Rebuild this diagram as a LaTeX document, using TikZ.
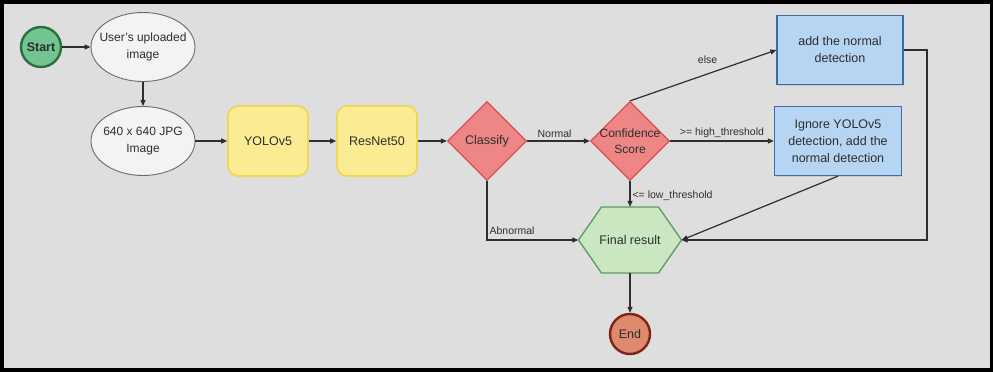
\documentclass[tikz,border=0pt]{standalone}
\usepackage{fontspec}
\setmainfont{Liberation Sans}
\usetikzlibrary{shapes.geometric,arrows.meta,calc,shadows}

\definecolor{pagebg}{HTML}{DEDEDE}
\definecolor{ink}{HTML}{2E2E2E}
\definecolor{startfill}{HTML}{74C491}
\definecolor{startline}{HTML}{2B6E40}
\definecolor{endfill}{HTML}{DE8A6E}
\definecolor{endline}{HTML}{7E2518}
\definecolor{ellfill}{HTML}{F3F3F3}
\definecolor{ellline}{HTML}{6A6A6A}
\definecolor{yelfill}{HTML}{FBEB93}
\definecolor{yelline}{HTML}{EDD65A}
\definecolor{redfill}{HTML}{EF8686}
\definecolor{redline}{HTML}{D65050}
\definecolor{bluefill}{HTML}{B6D5F3}
\definecolor{blueline}{HTML}{3D6DA4}
\definecolor{hexfill}{HTML}{CAE7C2}
\definecolor{hexline}{HTML}{5A9C58}

\tikzset{
  txt/.style={text=ink, font=\fontsize{12.5}{17}\selectfont, align=center},
  terminal/.style={circle, minimum size=40pt, inner sep=0pt, line width=2.4pt,
    text=ink, font=\fontsize{12.5}{15}\selectfont\bfseries},
  inputell/.style={ellipse, txt, font=\fontsize{12}{17}\selectfont,
    draw=ellline, fill=ellfill, line width=0.9pt,
    minimum width=104pt, minimum height=69pt, inner xsep=-11pt, inner ysep=0pt},
  modelbox/.style={rectangle, txt, rounded corners=10pt, draw=yelline, fill=yelfill,
    line width=1.6pt, minimum width=80pt, minimum height=70pt},
  decision/.style={diamond, aspect=1, txt, draw=redline, fill=redfill,
    line width=1.2pt, minimum width=79pt, minimum height=79pt, inner sep=-9pt},
  actionbox/.style={rectangle, txt, draw=blueline, fill=bluefill, line width=1.3pt,
    minimum width=126pt, minimum height=69pt,
    drop shadow={shadow xshift=0.8pt, shadow yshift=-1.2pt, opacity=0.22}},
  flow/.style={draw=ink, line width=1.2pt, -{Triangle[length=6pt,width=5pt]}},
  lbl/.style={text=ink, font=\fontsize{10.5}{12}\selectfont, inner sep=1pt}
}

\begin{document}
\begin{tikzpicture}[x=1pt, y=-1pt]
  % frame
  \fill[black] (0,0) rectangle (993,372);
  \fill[pagebg] (4,4) rectangle (990,368);
  \useasboundingbox (0,0) rectangle (993,372);

  % result hexagon outline (drawn first, text node placed on top)
  \coordinate (hc) at (630,240);
  \draw[draw=hexline, fill=hexfill, line width=1.3pt]
    ($(hc)+(-51.5,0)$) -- ($(hc)+(-28.5,-33)$) -- ($(hc)+(28.5,-33)$)
    -- ($(hc)+(51.5,0)$) -- ($(hc)+(28.5,33)$) -- ($(hc)+(-28.5,33)$) -- cycle;

  % nodes
  \node[terminal, draw=startline, fill=startfill] (start) at (41,47) {Start};
  \node[inputell] (upload) at (143,47) {User's uploaded\\image};
  \node[inputell] (jpg) at (143,141) {640 x 640 JPG\\Image};
  \node[modelbox] (yolo) at (268,141) {YOLOv5};
  \node[modelbox] (resnet) at (377,141) {ResNet50};
  \node[decision] (classify) at (487,141) {Classify};
  \node[decision, font=\fontsize{12}{16}\selectfont] (conf) at (630,141) {Confidence\\Score};
  \node[actionbox] (addnorm) at (840,50) {add the normal\\detection};
  \node[actionbox, minimum width=127pt] (ignore) at (838,141)
    {Ignore YOLOv5\\detection, add the\\normal detection};
  \node[txt, minimum width=103pt, minimum height=66pt, inner sep=0pt] (final) at (hc) {Final result};
  \node[terminal, draw=endline, fill=endfill, font=\fontsize{12.5}{15}\selectfont] (stop) at (630,334) {End};

  \coordinate (rbus) at (927,240);

  % connectors
  \draw[flow] (start) -- (upload);
  \draw[flow] (upload) -- (jpg);
  \draw[flow] (jpg) -- (yolo);
  \draw[flow] (yolo) -- (resnet);
  \draw[flow] (resnet) -- (classify);
  \draw[flow] (classify) -- node[lbl, above=2pt, xshift=-4pt] {Normal} (conf);
  \draw[flow] (classify.south) |- node[lbl, pos=0.42, anchor=west, xshift=1pt] {Abnormal} (final.west);
  \draw[flow] (conf.north) -- node[lbl, pos=0.53, above=9pt] {else} (addnorm.west);
  \draw[flow] (conf.east) -- node[lbl, above=2pt] {>= high\_threshold} (ignore.west);
  \draw[flow] (conf.south) -- node[lbl, anchor=west, xshift=1pt, yshift=-2pt] {<= low\_threshold} (final.north);
  \draw[flow] (ignore.south) -- (final.east);
  \draw[flow] (addnorm.east) -| (rbus) -- (final.east);
  \draw[flow] (final.south) -- (stop.north);
\end{tikzpicture}
\end{document}
